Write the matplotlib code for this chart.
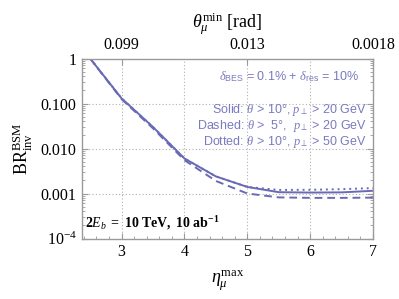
import numpy as np
import matplotlib
matplotlib.use("Agg")
import matplotlib.pyplot as plt
from matplotlib.ticker import FixedLocator, MultipleLocator, NullFormatter

eta = [2.5, 3.0, 3.5, 4.0, 4.5, 5.0, 5.5, 6.0, 6.5, 7.0]
solid = [1.0, 0.13, 0.030, 0.0060, 0.0024, 0.0014, 0.00107, 0.00105, 0.00106, 0.00115]
dashed = [1.0, 0.125, 0.028, 0.0055, 0.0019, 0.00100, 0.00082, 0.00080, 0.00080, 0.00081]
dotted = [1.0, 0.13, 0.030, 0.0060, 0.0024, 0.0014, 0.00120, 0.00121, 0.00125, 0.00132]

xticks = [3, 4, 5, 6, 7]
top_ticks = [3, 5, 7]
top_labels = ["0.099", "0.013", "0.0018"]
yticks = [1e-4, 1e-3, 1e-2, 1e-1, 1]
ylabels = [r"$10^{-4}$", "0.001", "0.010", "0.100", "1"]

lc = "#6a6ab4"
tc = "#7a7ac0"
fc = "#9a9a9a"
serif = "Liberation Serif"
plt.rcParams["mathtext.fontset"] = "custom"
plt.rcParams["mathtext.rm"] = "Liberation Serif"
plt.rcParams["mathtext.it"] = "Liberation Serif:italic"
plt.rcParams["mathtext.bf"] = "Liberation Serif:bold"
plt.rcParams["mathtext.bfit"] = "Liberation Serif:italic:bold"
plt.rcParams["mathtext.sf"] = "Liberation Sans"
plt.rcParams["mathtext.fallback"] = "stix"

fig = plt.figure(figsize=(3.99, 2.99), dpi=100)
ax = fig.add_axes([0.2055, 0.2023, 0.7295, 0.602])
ax.plot(eta, solid, color=lc, lw=1.4, ls="-")
ax.plot(eta, dashed, color=lc, lw=1.4, ls=(0, (4, 2.5)))
ax.plot(eta, dotted, color=lc, lw=1.4, ls=(0, (1, 2)))
ax.set_yscale("log")
ax.set_xlim(2.37, 7)
ax.set_ylim(1e-4, 1)

for s in ax.spines.values():
    s.set_color(fc)
    s.set_linewidth(1.0)

ax.xaxis.set_major_locator(FixedLocator(xticks))
ax.xaxis.set_minor_locator(MultipleLocator(0.2))
ax.set_xticklabels([str(t) for t in xticks], fontfamily=serif, fontsize=11.5)
ax.yaxis.set_major_locator(FixedLocator(yticks))
ax.set_yticklabels(ylabels, fontfamily=serif, fontsize=11.5)
ax.yaxis.set_minor_formatter(NullFormatter())
ax.tick_params(which="both", direction="in", color=fc, right=True)
ax.tick_params(which="major", length=4, pad=4)
ax.tick_params(which="minor", length=2)

for x in [3, 4, 5, 6]:
    ax.axvline(x, color="#b0b0b0", lw=0.8, ls=(0, (1, 2)), zorder=0)
for y in [0.1, 0.01, 0.001]:
    ax.axhline(y, color="#b0b0b0", lw=0.8, ls=(0, (1, 2)), zorder=0)

ax2 = ax.twiny()
ax2.set_xlim(ax.get_xlim())
ax2.set_xticks(top_ticks)
ax2.set_xticklabels(top_labels, fontfamily=serif, fontsize=11.5)
ax2.tick_params(direction="in", color=fc, length=4, pad=4)
for s in ax2.spines.values():
    s.set_visible(False)
ax2.set_xlabel(r"$\theta_\mu^{\mathrm{min}}$ [rad]", fontfamily=serif, fontsize=13, labelpad=6)

ax.set_xlabel(r"$\eta_\mu^{\mathrm{max}}$", fontsize=13, labelpad=6)
ax.set_ylabel(r"$\mathrm{BR}_{\mathrm{inv}}^{\mathrm{BSM}}$", fontsize=13, labelpad=4)

kw = dict(transform=ax.transAxes, ha="right", va="center", color=tc, fontsize=9.0,
          fontfamily="Liberation Sans")
ax.text(0.95, 0.897, r"$\delta_{\mathsf{BES}}$ = 0.1% + $\delta_{\mathsf{res}}$ = 10%", **kw)
ax.text(0.978, 0.714, r"Solid: $\theta$ > 10°, $p_\perp$ > 20 GeV", **kw)
ax.text(0.978, 0.625, r"Dashed: $\theta$ >  5°,  $p_\perp$ > 20 GeV", **kw)
ax.text(0.978, 0.536, r"Dotted: $\theta$ > 10°, $p_\perp$ > 50 GeV", **kw)
ax.text(0.01, 0.088, r"$\mathbf{2}\boldsymbol{E_b}\ \mathbf{=\ 10\ TeV,\ 10\ ab^{-1}}$",
        transform=ax.transAxes, ha="left", va="center", color="black", fontsize=10)

fig.savefig("out.png", dpi=100)
